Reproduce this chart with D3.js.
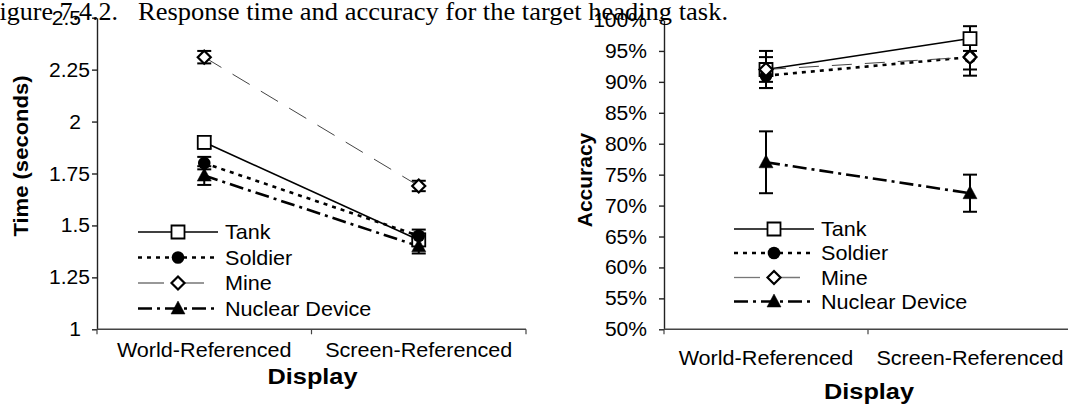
<!DOCTYPE html>
<html><head><meta charset="utf-8">
<script src="https://cdn.jsdelivr.net/npm/d3@7"></script>
<style>
body{margin:0;background:#fff}
svg{display:block}
text{font-family:"Liberation Sans",Arial,sans-serif;fill:#000}
</style>
</head><body><svg id="c" width="1068" height="405"></svg>
<script>
// ---------- data ----------
const categories = ["World-Referenced", "Screen-Referenced"];
const seriesNames = ["Tank", "Soldier", "Mine", "Nuclear Device"];

const timeTank    = [1.90, 1.43];
const timeSoldier = [1.80, 1.45];
const timeMine    = [2.31, 1.69];
const timeNuclear = [1.74, 1.40];
const timeErrTank    = [0.03, 0.03];
const timeErrSoldier = [0.03, 0.03];
const timeErrMine    = [0.03, 0.025];
const timeErrNuclear = [0.045, 0.035];
const timeTicks = [1, 1.25, 1.5, 1.75, 2, 2.25, 2.5];

const accTank    = [0.92, 0.97];
const accSoldier = [0.91, 0.94];
const accMine    = [0.92, 0.94];
const accNuclear = [0.77, 0.72];
const accErrTank    = [0.03, 0.02];
const accErrSoldier = [0.02, 0.02];
const accErrMine    = [0.02, 0.03];
const accErrNuclear = [0.05, 0.03];
const accTicks = [0.5, 0.55, 0.6, 0.65, 0.7, 0.75, 0.8, 0.85, 0.9, 0.95, 1.0];

const titlePrefix = "Figure 7.4.2.";
const titleText = "Response time and accuracy for the target heading task.";

// ---------- styles ----------
const styles = [
  {dash: null,         width: 1.6, color: "#000", marker: "square"},
  {dash: "4,5",        width: 2.6, color: "#000", marker: "circle"},
  {dash: "20,13",      width: 1,   color: "#444", marker: "diamond"},
  {dash: "14,5,3,5",   width: 2.6, color: "#000", marker: "triangle"}
];
const SX = 1.08; // horizontal stretch of text

const svg = d3.select("#c");
svg.append("rect").attr("width", 1068).attr("height", 405).attr("fill", "#fff");

function txt(g, x, y, s, o) {
  o = o || {};
  const t = g.append("text")
    .attr("transform", `translate(${x},${y}) ${o.rot ? "rotate(" + o.rot + ")" : ""} scale(${o.sx || SX},1)`)
    .attr("text-anchor", o.anchor || "start")
    .style("font-size", (o.size || 20) + "px")
    .text(s);
  if (o.bold) t.style("font-weight", "bold");
  if (o.dy) t.attr("dy", o.dy);
  return t;
}

function marker(g, type, x, y) {
  if (type === "circle") {
    g.append("circle").attr("cx", x).attr("cy", y).attr("r", 6.3).attr("fill", "#000");
    return;
  }
  let d, fill = "#fff", sw = 1.8;
  if (type === "square") d = "M-6.5,-6.5h13v13h-13z";
  if (type === "diamond") { d = "M0,-6.5L6.5,0L0,6.5L-6.5,0Z"; sw = 2.2; }
  if (type === "triangle") { d = "M0,-7.5L7,5.5H-7Z"; fill = "#000"; sw = 0.5; }
  g.append("path").attr("d", d).attr("transform", `translate(${x},${y})`)
    .attr("fill", fill).attr("stroke", "#000").attr("stroke-width", sw);
}

function drawChart(cfg) {
  const g = svg.append("g");
  const x = d3.scaleBand().domain(categories).range(cfg.xRange).padding(0);
  const y = d3.scaleLinear().domain(cfg.yDomain).range(cfg.yRange);
  const cx = c => x(c) + x.bandwidth() / 2;
  const axisY = cfg.yRange[0];

  // y axis
  const ya = g.append("g").attr("transform", `translate(${cfg.xRange[0]},0)`)
    .call(d3.axisLeft(y).tickValues(cfg.ticks).tickSize(5).tickSizeOuter(0).tickFormat(() => ""));
  ya.selectAll("path,line").attr("stroke", "#222").attr("stroke-width", 1.4);
  cfg.ticks.forEach(t => txt(g, cfg.xRange[0] - cfg.labelGap(t), y(t), cfg.fmt(t),
    {anchor: "end", size: 19.5, dy: "0.36em"}));

  // x axis
  g.append("line").attr("x1", cfg.xRange[0]).attr("x2", cfg.xRange[1])
    .attr("y1", axisY).attr("y2", axisY).attr("stroke", "#444").attr("stroke-width", 1.4);
  const bounds = categories.map(c => x(c)).concat([cfg.xRange[1]]);
  bounds.forEach(b => g.append("line").attr("x1", b).attr("x2", b)
    .attr("y1", axisY).attr("y2", axisY + 5).attr("stroke", "#444").attr("stroke-width", 1.2));
  categories.forEach(c => txt(g, cx(c), cfg.xLabelY, c, {anchor: "middle", size: 20}));

  // axis titles
  txt(g, (cfg.xRange[0] + cfg.xRange[1]) / 2 + cfg.xTitleDx, cfg.xTitleY, "Display",
    {anchor: "middle", size: 22, bold: true, sx: 1.15});
  txt(g, cfg.yTitleX, cfg.yTitleY, cfg.yTitle, {anchor: "middle", size: cfg.yTitleSize, bold: true, rot: -90, sx: 1.05});

  // error bars
  cfg.series.forEach((s, i) => {
    s.vals.forEach((v, j) => {
      const px = cx(categories[j]);
      const e = s.err[j];
      const y1 = y(v - e), y2 = y(v + e);
      g.append("line").attr("x1", px).attr("x2", px).attr("y1", y1).attr("y2", y2)
        .attr("stroke", "#000").attr("stroke-width", 2);
      [y1, y2].forEach(yy => g.append("line").attr("x1", px - 7).attr("x2", px + 7)
        .attr("y1", yy).attr("y2", yy).attr("stroke", "#000").attr("stroke-width", 2));
    });
  });

  // lines + markers
  const line = d3.line().x((d, j) => cx(categories[j])).y(d => y(d));
  cfg.series.forEach((s, i) => {
    const st = styles[i];
    g.append("path").attr("d", line(s.vals)).attr("fill", "none")
      .attr("stroke", st.color).attr("stroke-width", st.width)
      .attr("stroke-dasharray", st.dash);
  });
  cfg.series.forEach((s, i) => {
    s.vals.forEach((v, j) => marker(g, styles[i].marker, cx(categories[j]), y(v)));
  });

  // legend
  seriesNames.forEach((n, i) => {
    const st = styles[i];
    const ly = cfg.legendY[i];
    const L = cfg.legend;
    g.append("line").attr("x1", L.x0).attr("x2", L.x1).attr("y1", ly).attr("y2", ly)
      .attr("stroke", i === 2 ? "#777" : st.color).attr("stroke-width", i === 2 ? 1.3 : st.width)
      .attr("stroke-dasharray", i === 2 ? "26,14" : st.dash);
    marker(g, st.marker, (L.x0 + L.x1) / 2, ly);
    txt(g, L.tx, ly, n, {size: 20, dy: "0.36em"});
  });
}

drawChart({
  xRange: [97, 526], yDomain: [1, 2.5], yRange: [329.3, 17.7],
  ticks: timeTicks, fmt: d => String(d),
  labelGap: t => (Number.isInteger(t) || t === 2.5) ? 16 : 7,
  xLabelY: 357, xTitleY: 384, xTitleDx: 1,
  yTitle: "Time (seconds)", yTitleX: 28, yTitleY: 156, yTitleSize: 21,
  series: [
    {vals: timeTank, err: timeErrTank},
    {vals: timeSoldier, err: timeErrSoldier},
    {vals: timeMine, err: timeErrMine},
    {vals: timeNuclear, err: timeErrNuclear}
  ],
  legend: {x0: 138, x1: 218, tx: 225},
  legendY: [232, 257.5, 283, 308.5]
});

drawChart({
  xRange: [664, 1072], yDomain: [0.5, 1], yRange: [329.3, 20],
  ticks: accTicks, fmt: d3.format(".0%"), labelGap: () => 17,
  xLabelY: 365, xTitleY: 399, xTitleDx: 1,
  yTitle: "Accuracy", yTitleX: 592, yTitleY: 180, yTitleSize: 20,
  series: [
    {vals: accTank, err: accErrTank},
    {vals: accSoldier, err: accErrSoldier},
    {vals: accMine, err: accErrMine},
    {vals: accNuclear, err: accErrNuclear}
  ],
  legend: {x0: 734, x1: 814, tx: 821},
  legendY: [229, 253, 277.5, 301.5]
});

// title (drawn on top)
const tf = "'Liberation Serif','Times New Roman',serif";
svg.append("text").attr("x", 118).attr("y", 20)
  .attr("text-anchor", "end")
  .style("font-family", tf).style("font-size", "26px")
  .text(titlePrefix);
svg.append("text").attr("x", 138).attr("y", 20)
  .style("font-family", tf).style("font-size", "26px")
  .attr("textLength", 590).attr("lengthAdjust", "spacingAndGlyphs")
  .text(titleText);
</script>
</body></html>
